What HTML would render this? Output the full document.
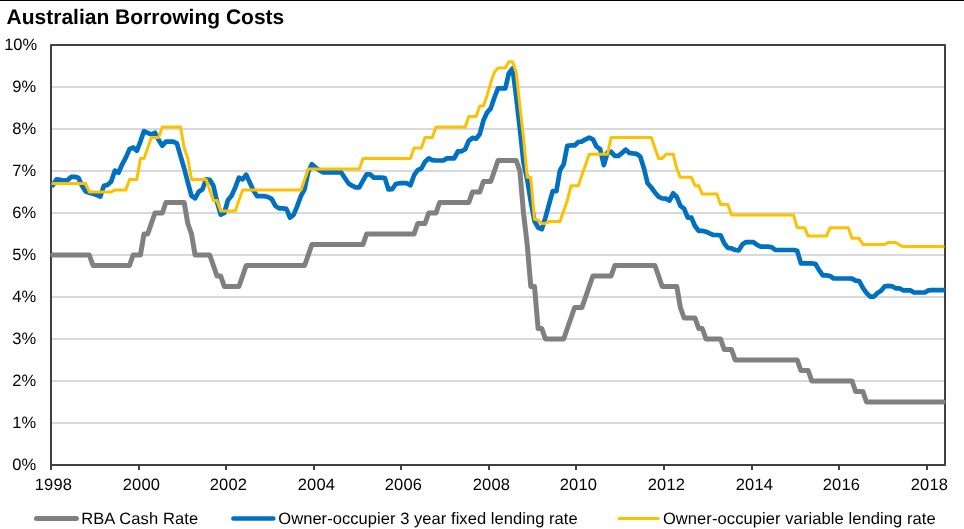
<!DOCTYPE html>
<html><head><meta charset="utf-8"><title>Australian Borrowing Costs</title>
<style>
html,body{margin:0;padding:0;background:#fff;}
body{text-rendering:geometricPrecision;width:964px;height:529px;position:relative;overflow:hidden;font-family:"Liberation Sans",sans-serif;color:#000;}
#topline{position:absolute;left:0;top:0;width:964px;height:1px;background:#000;}
#title{position:absolute;left:6.6px;top:6px;font-size:21px;font-weight:bold;line-height:24px;white-space:nowrap;color:#000;}
svg{position:absolute;left:0;top:0;}
#txt{position:absolute;left:0;top:0;width:964px;height:529px;will-change:transform;}
.yl{position:absolute;left:0;width:37.2px;text-align:right;font-size:16.5px;line-height:18px;white-space:nowrap;letter-spacing:0px;}
.xl{position:absolute;top:475.5px;width:60px;text-align:center;font-size:16.5px;line-height:18px;white-space:nowrap;letter-spacing:0.13px;}
.lg{position:absolute;top:510px;font-size:16.5px;line-height:18px;white-space:nowrap;}
</style></head>
<body>
<div id="topline"></div>
<div id="txt">
<div id="title">Australian Borrowing Costs</div>
<svg width="964" height="529" viewBox="0 0 964 529">
<g stroke="#d9d9d9" stroke-width="2" fill="none">
<line x1="51.0" y1="423.00" x2="945.0" y2="423.00"/>
<line x1="51.0" y1="381.00" x2="945.0" y2="381.00"/>
<line x1="51.0" y1="339.00" x2="945.0" y2="339.00"/>
<line x1="51.0" y1="297.00" x2="945.0" y2="297.00"/>
<line x1="51.0" y1="255.00" x2="945.0" y2="255.00"/>
<line x1="51.0" y1="213.00" x2="945.0" y2="213.00"/>
<line x1="51.0" y1="171.00" x2="945.0" y2="171.00"/>
<line x1="51.0" y1="129.00" x2="945.0" y2="129.00"/>
<line x1="51.0" y1="87.00" x2="945.0" y2="87.00"/>
</g>
<rect x="51.0" y="45.0" width="894.0" height="420.0" fill="none" stroke="#404040" stroke-width="2" stroke-linejoin="round"/>
<g fill="none" stroke-linejoin="round" stroke-linecap="round">
<path stroke="#808080" stroke-width="5" d="M52.8,255.0 L56.5,255.0 L60.1,255.0 L63.8,255.0 L67.4,255.0 L71.1,255.0 L74.7,255.0 L78.4,255.0 L82.0,255.0 L85.7,255.0 L89.3,255.0 L93.0,265.5 L96.6,265.5 L100.3,265.5 L103.9,265.5 L107.6,265.5 L111.2,265.5 L114.9,265.5 L118.5,265.5 L122.2,265.5 L125.8,265.5 L129.5,265.5 L133.1,255.0 L136.8,255.0 L140.4,255.0 L144.0,234.0 L147.7,234.0 L151.3,223.5 L155.0,213.0 L158.6,213.0 L162.3,213.0 L165.9,202.5 L169.6,202.5 L173.2,202.5 L176.9,202.5 L180.5,202.5 L184.2,202.5 L187.8,223.5 L191.5,234.0 L195.1,255.0 L198.8,255.0 L202.4,255.0 L206.1,255.0 L209.7,255.0 L213.4,265.5 L217.0,276.0 L220.7,276.0 L224.3,286.5 L228.0,286.5 L231.6,286.5 L235.3,286.5 L238.9,286.5 L242.6,276.0 L246.2,265.5 L249.9,265.5 L253.5,265.5 L257.2,265.5 L260.8,265.5 L264.5,265.5 L268.1,265.5 L271.8,265.5 L275.4,265.5 L279.1,265.5 L282.7,265.5 L286.4,265.5 L290.0,265.5 L293.7,265.5 L297.3,265.5 L301.0,265.5 L304.6,265.5 L308.3,255.0 L311.9,244.5 L315.6,244.5 L319.2,244.5 L322.8,244.5 L326.5,244.5 L330.1,244.5 L333.8,244.5 L337.4,244.5 L341.1,244.5 L344.7,244.5 L348.4,244.5 L352.0,244.5 L355.7,244.5 L359.3,244.5 L363.0,244.5 L366.6,234.0 L370.3,234.0 L373.9,234.0 L377.6,234.0 L381.2,234.0 L384.9,234.0 L388.5,234.0 L392.2,234.0 L395.8,234.0 L399.5,234.0 L403.1,234.0 L406.8,234.0 L410.4,234.0 L414.1,234.0 L417.7,223.5 L421.4,223.5 L425.0,223.5 L428.7,213.0 L432.3,213.0 L436.0,213.0 L439.6,202.5 L443.3,202.5 L446.9,202.5 L450.6,202.5 L454.2,202.5 L457.9,202.5 L461.5,202.5 L465.2,202.5 L468.8,202.5 L472.5,192.0 L476.1,192.0 L479.8,192.0 L483.4,181.5 L487.1,181.5 L490.7,181.5 L494.4,171.0 L498.0,160.5 L501.6,160.5 L505.3,160.5 L508.9,160.5 L512.6,160.5 L516.2,160.5 L519.9,171.0 L523.5,213.0 L527.2,244.5 L530.8,286.5 L534.5,286.5 L538.1,328.5 L541.8,328.5 L545.4,339.0 L549.1,339.0 L552.7,339.0 L556.4,339.0 L560.0,339.0 L563.7,339.0 L567.3,328.5 L571.0,318.0 L574.6,307.5 L578.3,307.5 L581.9,307.5 L585.6,297.0 L589.2,286.5 L592.9,276.0 L596.5,276.0 L600.2,276.0 L603.8,276.0 L607.5,276.0 L611.1,276.0 L614.8,265.5 L618.4,265.5 L622.1,265.5 L625.7,265.5 L629.4,265.5 L633.0,265.5 L636.7,265.5 L640.3,265.5 L644.0,265.5 L647.6,265.5 L651.3,265.5 L654.9,265.5 L658.6,276.0 L662.2,286.5 L665.9,286.5 L669.5,286.5 L673.2,286.5 L676.8,286.5 L680.4,307.5 L684.1,318.0 L687.7,318.0 L691.4,318.0 L695.0,318.0 L698.7,328.5 L702.3,328.5 L706.0,339.0 L709.6,339.0 L713.3,339.0 L716.9,339.0 L720.6,339.0 L724.2,349.5 L727.9,349.5 L731.5,349.5 L735.2,360.0 L738.8,360.0 L742.5,360.0 L746.1,360.0 L749.8,360.0 L753.4,360.0 L757.1,360.0 L760.7,360.0 L764.4,360.0 L768.0,360.0 L771.7,360.0 L775.3,360.0 L779.0,360.0 L782.6,360.0 L786.3,360.0 L789.9,360.0 L793.6,360.0 L797.2,360.0 L800.9,370.5 L804.5,370.5 L808.2,370.5 L811.8,381.0 L815.5,381.0 L819.1,381.0 L822.8,381.0 L826.4,381.0 L830.1,381.0 L833.7,381.0 L837.4,381.0 L841.0,381.0 L844.7,381.0 L848.3,381.0 L852.0,381.0 L855.6,391.5 L859.2,391.5 L862.9,391.5 L866.5,402.0 L870.2,402.0 L873.8,402.0 L877.5,402.0 L881.1,402.0 L884.8,402.0 L888.4,402.0 L892.1,402.0 L895.7,402.0 L899.4,402.0 L903.0,402.0 L906.7,402.0 L910.3,402.0 L914.0,402.0 L917.6,402.0 L921.3,402.0 L924.9,402.0 L928.6,402.0 L932.2,402.0 L935.9,402.0 L939.5,402.0 L943.2,402.0"/>
<path stroke="#0070c0" stroke-width="4.7" d="M52.8,185.3 L56.5,179.4 L60.1,179.8 L63.8,180.7 L67.4,180.2 L71.1,176.9 L74.7,176.9 L78.4,177.7 L82.0,185.7 L85.7,191.6 L89.3,192.8 L93.0,193.7 L96.6,194.9 L100.3,196.6 L103.9,185.7 L107.6,184.9 L111.2,181.5 L114.9,170.6 L118.5,172.7 L122.2,164.3 L125.8,157.6 L129.5,149.2 L133.1,147.5 L136.8,150.8 L140.4,141.6 L144.0,131.1 L147.7,132.8 L151.3,134.5 L155.0,132.8 L158.6,139.9 L162.3,145.8 L165.9,141.6 L169.6,141.6 L173.2,141.6 L176.9,143.3 L180.5,155.9 L184.2,168.5 L187.8,182.3 L191.5,195.8 L195.1,198.3 L198.8,191.6 L202.4,189.5 L206.1,179.4 L209.7,179.8 L213.4,185.7 L217.0,201.7 L220.7,214.7 L224.3,213.0 L228.0,200.0 L231.6,195.8 L235.3,187.4 L238.9,177.7 L242.6,179.4 L246.2,174.8 L249.9,182.8 L253.5,190.7 L257.2,196.2 L260.8,196.2 L264.5,196.2 L268.1,197.0 L271.8,199.1 L275.4,205.9 L279.1,208.4 L282.7,208.4 L286.4,208.8 L290.0,217.6 L293.7,214.7 L297.3,205.9 L301.0,195.8 L304.6,189.1 L308.3,171.8 L311.9,164.3 L315.6,167.6 L319.2,170.2 L322.8,172.3 L326.5,172.3 L330.1,172.3 L333.8,172.3 L337.4,172.3 L341.1,172.3 L344.7,177.7 L348.4,183.2 L352.0,185.7 L355.7,187.4 L359.3,187.4 L363.0,180.7 L366.6,174.4 L370.3,174.4 L373.9,177.7 L377.6,177.7 L381.2,177.7 L384.9,178.1 L388.5,189.5 L392.2,189.1 L395.8,184.0 L399.5,183.2 L403.1,183.2 L406.8,183.2 L410.4,185.3 L414.1,175.2 L417.7,170.2 L421.4,168.5 L425.0,161.8 L428.7,158.4 L432.3,160.1 L436.0,160.5 L439.6,160.5 L443.3,160.5 L446.9,158.4 L450.6,158.4 L454.2,158.4 L457.9,151.3 L461.5,151.3 L465.2,149.2 L468.8,140.8 L472.5,137.8 L476.1,138.7 L479.8,134.0 L483.4,120.6 L487.1,112.6 L490.7,108.4 L494.4,97.5 L498.0,88.3 L501.6,88.3 L505.3,88.5 L508.9,73.1 L512.6,68.5 L516.2,96.7 L519.9,129.0 L523.5,162.6 L527.2,179.4 L530.8,201.7 L534.5,221.0 L538.1,227.5 L541.8,229.2 L545.4,217.6 L549.1,204.2 L552.7,191.2 L556.4,191.2 L560.0,170.2 L563.7,164.3 L567.3,145.8 L571.0,145.4 L574.6,145.4 L578.3,142.0 L581.9,141.6 L585.6,139.3 L589.2,137.6 L592.9,139.3 L596.5,146.6 L600.2,149.2 L603.8,165.1 L607.5,152.5 L611.1,151.7 L614.8,155.9 L618.4,155.9 L622.1,152.9 L625.7,149.6 L629.4,152.9 L633.0,153.4 L636.7,153.8 L640.3,156.7 L644.0,168.5 L647.6,183.3 L651.3,187.5 L654.9,192.4 L658.6,196.8 L662.2,198.3 L665.9,198.7 L669.5,200.6 L673.2,193.3 L676.8,197.0 L680.4,205.9 L684.1,208.6 L687.7,217.6 L691.4,217.6 L695.0,226.0 L698.7,230.8 L702.3,230.8 L706.0,231.7 L709.6,233.4 L713.3,235.0 L716.9,235.0 L720.6,235.3 L724.2,243.3 L727.9,248.0 L731.5,248.3 L735.2,250.0 L738.8,250.4 L742.5,244.2 L746.1,242.1 L749.8,242.1 L753.4,242.1 L757.1,244.9 L760.7,246.6 L764.4,246.6 L768.0,246.6 L771.7,247.2 L775.3,250.0 L779.0,250.0 L782.6,250.0 L786.3,250.0 L789.9,250.0 L793.6,250.0 L797.2,250.8 L800.9,263.4 L804.5,263.4 L808.2,263.4 L811.8,263.4 L815.5,264.0 L819.1,270.1 L822.8,275.4 L826.4,275.4 L830.1,276.0 L833.7,278.5 L837.4,278.5 L841.0,278.5 L844.7,278.5 L848.3,278.5 L852.0,278.7 L855.6,280.6 L859.2,281.0 L862.9,287.8 L866.5,293.0 L870.2,296.6 L873.8,296.6 L877.5,293.0 L881.1,290.8 L884.8,286.3 L888.4,285.8 L892.1,286.3 L895.7,288.3 L899.4,288.3 L903.0,290.3 L906.7,290.3 L910.3,290.3 L914.0,292.5 L917.6,292.5 L921.3,292.5 L924.9,292.5 L928.6,290.3 L932.2,290.1 L935.9,290.1 L939.5,290.1 L943.2,290.1"/>
<path stroke="#ffc000" stroke-width="3" d="M52.8,183.6 L56.5,183.6 L60.1,183.6 L63.8,183.6 L67.4,183.6 L71.1,183.6 L74.7,183.6 L78.4,183.6 L82.0,183.6 L85.7,183.6 L89.3,192.0 L93.0,192.0 L96.6,192.0 L100.3,192.0 L103.9,192.0 L107.6,192.0 L111.2,192.0 L114.9,189.9 L118.5,189.9 L122.2,189.9 L125.8,189.9 L129.5,179.4 L133.1,179.4 L136.8,179.4 L140.4,158.4 L144.0,158.4 L147.7,147.9 L151.3,137.4 L155.0,137.4 L158.6,137.4 L162.3,126.9 L165.9,126.9 L169.6,126.9 L173.2,126.9 L176.9,126.9 L180.5,126.9 L184.2,147.9 L187.8,158.4 L191.5,179.4 L195.1,179.4 L198.8,179.4 L202.4,179.4 L206.1,179.4 L209.7,189.9 L213.4,200.4 L217.0,200.4 L220.7,210.9 L224.3,210.9 L228.0,210.9 L231.6,210.9 L235.3,210.9 L238.9,200.4 L242.6,189.9 L246.2,189.9 L249.9,189.9 L253.5,189.9 L257.2,189.9 L260.8,189.9 L264.5,189.9 L268.1,189.9 L271.8,189.9 L275.4,189.9 L279.1,189.9 L282.7,189.9 L286.4,189.9 L290.0,189.9 L293.7,189.9 L297.3,189.9 L301.0,189.9 L304.6,179.4 L308.3,168.9 L311.9,168.9 L315.6,168.9 L319.2,168.9 L322.8,168.9 L326.5,168.9 L330.1,168.9 L333.8,168.9 L337.4,168.9 L341.1,168.9 L344.7,168.9 L348.4,168.9 L352.0,168.9 L355.7,168.9 L359.3,168.9 L363.0,158.4 L366.6,158.4 L370.3,158.4 L373.9,158.4 L377.6,158.4 L381.2,158.4 L384.9,158.4 L388.5,158.4 L392.2,158.4 L395.8,158.4 L399.5,158.4 L403.1,158.4 L406.8,158.4 L410.4,158.4 L414.1,147.9 L417.7,147.9 L421.4,147.9 L425.0,137.4 L428.7,137.4 L432.3,137.4 L436.0,126.9 L439.6,126.9 L443.3,126.9 L446.9,126.9 L450.6,126.9 L454.2,126.9 L457.9,126.9 L461.5,126.9 L465.2,126.9 L468.8,116.4 L472.5,116.4 L476.1,116.4 L479.8,105.9 L483.4,105.9 L487.1,95.4 L490.7,82.8 L494.4,72.3 L498.0,68.1 L501.6,68.1 L505.3,68.1 L508.9,61.8 L512.6,61.8 L516.2,72.3 L519.9,105.9 L523.5,137.4 L527.2,177.3 L530.8,177.3 L534.5,219.3 L538.1,220.1 L541.8,223.5 L545.4,223.5 L549.1,221.4 L552.7,221.4 L556.4,221.4 L560.0,221.4 L563.7,210.9 L567.3,200.4 L571.0,185.7 L574.6,185.7 L578.3,185.7 L581.9,175.2 L585.6,164.7 L589.2,154.2 L592.9,154.2 L596.5,154.2 L600.2,154.2 L603.8,154.2 L607.5,154.2 L611.1,137.4 L614.8,137.4 L618.4,137.4 L622.1,137.4 L625.7,137.4 L629.4,137.4 L633.0,137.4 L636.7,137.4 L640.3,137.4 L644.0,137.4 L647.6,137.4 L651.3,137.4 L654.9,147.9 L658.6,158.4 L662.2,158.4 L665.9,154.2 L669.5,154.2 L673.2,154.2 L676.8,168.9 L680.4,177.3 L684.1,177.3 L687.7,177.3 L691.4,177.3 L695.0,185.7 L698.7,185.7 L702.3,194.1 L706.0,194.1 L709.6,194.1 L713.3,194.1 L716.9,194.1 L720.6,204.6 L724.2,204.6 L727.9,204.6 L731.5,215.1 L735.2,215.1 L738.8,215.1 L742.5,215.1 L746.1,215.1 L749.8,215.1 L753.4,215.1 L757.1,215.1 L760.7,215.1 L764.4,215.1 L768.0,215.1 L771.7,215.1 L775.3,215.1 L779.0,215.1 L782.6,215.1 L786.3,215.1 L789.9,215.1 L793.6,215.1 L797.2,227.7 L800.9,227.7 L804.5,227.7 L808.2,236.1 L811.8,236.1 L815.5,236.1 L819.1,236.1 L822.8,236.1 L826.4,236.1 L830.1,227.7 L833.7,227.7 L837.4,227.7 L841.0,227.7 L844.7,227.7 L848.3,227.7 L852.0,238.2 L855.6,238.2 L859.2,238.2 L862.9,244.5 L866.5,244.5 L870.2,244.5 L873.8,244.5 L877.5,244.5 L881.1,244.5 L884.8,244.5 L888.4,242.4 L892.1,242.4 L895.7,242.4 L899.4,244.9 L903.0,246.6 L906.7,246.6 L910.3,246.6 L914.0,246.6 L917.6,246.6 L921.3,246.6 L924.9,246.6 L928.6,246.6 L932.2,246.6 L935.9,246.6 L939.5,246.6 L943.2,246.6"/>
</g>
<g stroke="#404040" stroke-width="2">
<line x1="51.0" y1="465.0" x2="51.0" y2="470.0"/>
<line x1="139.0" y1="465.0" x2="139.0" y2="470.0"/>
<line x1="226.0" y1="465.0" x2="226.0" y2="470.0"/>
<line x1="314.0" y1="465.0" x2="314.0" y2="470.0"/>
<line x1="401.0" y1="465.0" x2="401.0" y2="470.0"/>
<line x1="489.0" y1="465.0" x2="489.0" y2="470.0"/>
<line x1="576.0" y1="465.0" x2="576.0" y2="470.0"/>
<line x1="664.0" y1="465.0" x2="664.0" y2="470.0"/>
<line x1="752.0" y1="465.0" x2="752.0" y2="470.0"/>
<line x1="839.0" y1="465.0" x2="839.0" y2="470.0"/>
<line x1="927.0" y1="465.0" x2="927.0" y2="470.0"/>
</g>
<g fill="none" stroke-linecap="round">
<line x1="36.5" y1="518.5" x2="76.4" y2="518.5" stroke="#808080" stroke-width="5"/>
<line x1="233.5" y1="518.5" x2="273.2" y2="518.5" stroke="#0070c0" stroke-width="4.7"/>
<line x1="619" y1="518.5" x2="658.2" y2="518.5" stroke="#ffc000" stroke-width="3"/>
</g>
</svg>
<div class="yl" style="top:456.4px;width:36.2px">0%</div>
<div class="yl" style="top:414.4px;width:36.2px">1%</div>
<div class="yl" style="top:372.4px;width:36.2px">2%</div>
<div class="yl" style="top:330.4px;width:36.2px">3%</div>
<div class="yl" style="top:288.4px;width:36.2px">4%</div>
<div class="yl" style="top:246.4px;width:36.2px">5%</div>
<div class="yl" style="top:204.4px;width:36.2px">6%</div>
<div class="yl" style="top:162.4px;width:36.2px">7%</div>
<div class="yl" style="top:120.4px;width:36.2px">8%</div>
<div class="yl" style="top:78.4px;width:36.2px">9%</div>
<div class="yl" style="top:36.4px;width:37.2px">10%</div>
<div class="xl" style="left:23.4px">1998</div>
<div class="xl" style="left:111.4px">2000</div>
<div class="xl" style="left:198.4px">2002</div>
<div class="xl" style="left:286.4px">2004</div>
<div class="xl" style="left:373.4px">2006</div>
<div class="xl" style="left:461.4px">2008</div>
<div class="xl" style="left:548.4px">2010</div>
<div class="xl" style="left:636.4px">2012</div>
<div class="xl" style="left:724.4px">2014</div>
<div class="xl" style="left:811.4px">2016</div>
<div class="xl" style="left:899.4px">2018</div>
<div class="lg" style="left:81.2px;letter-spacing:0.11px">RBA Cash Rate</div>
<div class="lg" style="left:278.3px;letter-spacing:0.055px">Owner-occupier 3 year fixed lending rate</div>
<div class="lg" style="left:662.9px;letter-spacing:0.09px">Owner-occupier variable lending rate</div>
</div>
</body></html>
